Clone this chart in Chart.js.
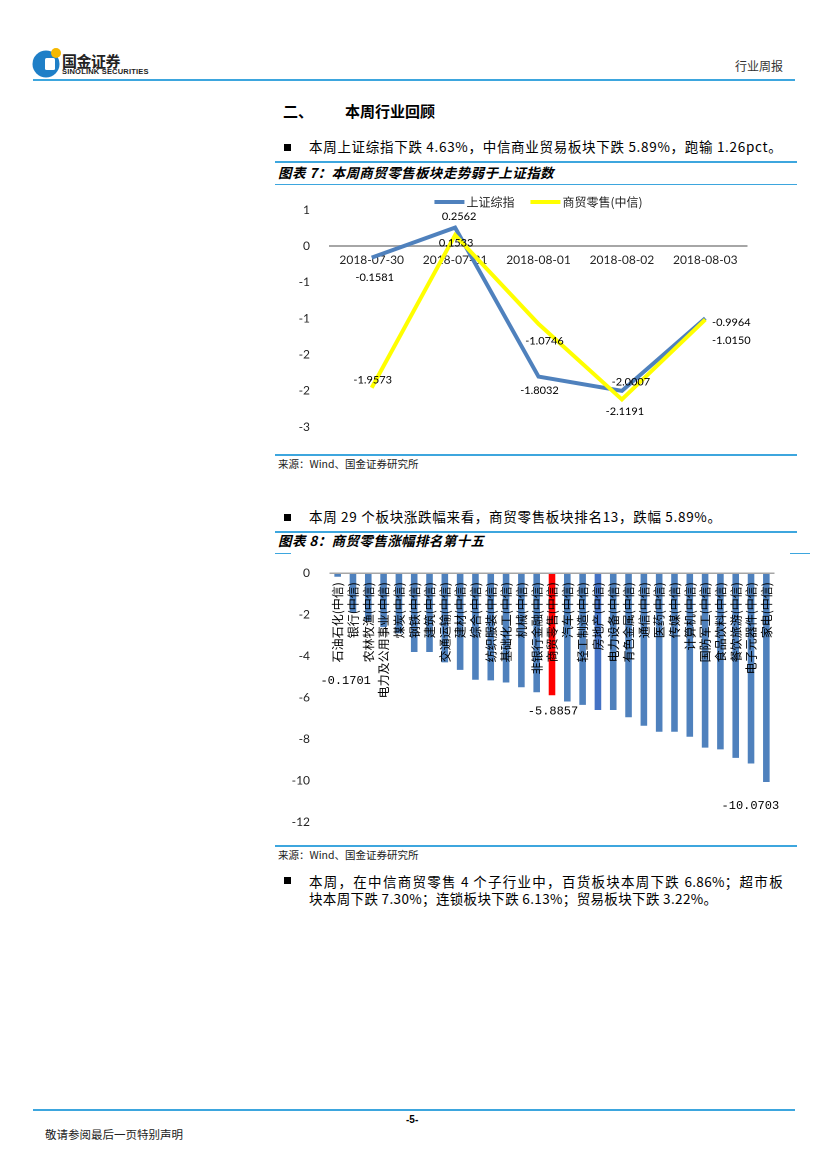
<!DOCTYPE html>
<html>
<head>
<meta charset="utf-8">
<script src="https://cdn.jsdelivr.net/npm/chart.js@4.4.0/dist/chart.umd.min.js"></script>
<style>
  body { margin: 0; background: #fff; }
  #page { position: relative; width: 827px; height: 1170px; overflow: hidden; font-family: "Noto Sans CJK SC", sans-serif; color: #000; }
  .t { position: absolute; white-space: nowrap; line-height: 1; }
  .rule { position: absolute; height: 2px; background: #3da6de; }
  .thin { height: 1px; }
  .bullet { position: absolute; width: 7px; height: 7px; background: #000; }
  .body { font-size: 13.5px; letter-spacing: 0.7px; }
  .cap { font-size: 13.5px; font-weight: bold; font-style: italic; letter-spacing: 0.4px; }
  .src { font-size: 10.5px; color: #222; }
  .box { position: absolute; }
</style>
</head>
<body>
<div id="page">
  <!-- header -->
  <svg class="box" style="left:32px;top:47px" width="32" height="32" viewBox="0 0 32 32">
    <circle cx="14" cy="17" r="13.5" fill="#1f7fc7"/>
    <rect x="13" y="11" width="10" height="12" rx="1.5" fill="#fff"/>
    <circle cx="24" cy="6" r="5" fill="#f5b800"/>
  </svg>
  <div class="t" style="left:62px;top:53px;font-size:15px;font-weight:bold;color:#222;letter-spacing:-0.5px">国金证券</div>
  <div class="t" style="left:62px;top:68px;font-size:7.5px;font-weight:bold;font-family:'Liberation Sans';color:#222;letter-spacing:0.2px">SINOLINK SECURITIES</div>
  <div class="t" style="left:735px;top:60px;font-size:12px;color:#333">行业周报</div>
  <div class="rule" style="left:33px;top:79px;width:762px"></div>

  <div class="t" style="left:283px;top:103px;font-size:15px;font-weight:bold">二、</div>
  <div class="t" style="left:345px;top:103px;font-size:15px;font-weight:bold">本周行业回顾</div>

  <div class="bullet" style="left:284px;top:144px"></div>
  <div class="t body" style="left:309px;top:140px">本周上证综指下跌 4.63%，中信商业贸易板块下跌 5.89%，跑输 1.26pct。</div>

  <div class="rule" style="left:275px;top:161px;width:522px"></div>
  <div class="t cap" style="left:278px;top:166px">图表 7：本周商贸零售板块走势弱于上证指数</div>
  <div class="rule thin" style="left:275px;top:184px;width:522px"></div>
  <canvas id="lineChart" class="box" style="left:275px;top:186px;width:522px;height:268px"></canvas>
  <div class="rule" style="left:275px;top:454px;width:522px"></div>
  <div class="t src" style="left:278px;top:459px">来源：Wind、国金证券研究所</div>

  <div class="bullet" style="left:284px;top:514px"></div>
  <div class="t body" style="left:309px;top:510px">本周 29 个板块涨跌幅来看，商贸零售板块排名13，跌幅 5.89%。</div>

  <div class="rule" style="left:275px;top:531px;width:522px"></div>
  <div class="t cap" style="left:278px;top:534px">图表 8：商贸零售涨幅排名第十五</div>
  <div class="rule thin" style="left:275px;top:553px;width:16px"></div>
  <div class="rule thin" style="left:790px;top:553px;width:20px"></div>
  <canvas id="barChart" class="box" style="left:275px;top:554px;width:522px;height:290px"></canvas>
  <div class="rule" style="left:275px;top:845px;width:522px"></div>
  <div class="t src" style="left:278px;top:850px">来源：Wind、国金证券研究所</div>

  <div class="bullet" style="left:284px;top:877px"></div>
  <div class="t body" style="left:309px;top:873px;width:474px;white-space:normal;line-height:17px;letter-spacing:0.35px">
    <div style="text-align:justify;text-align-last:justify">本周，在中信商贸零售 4 个子行业中，百货板块本周下跌 6.86%；超市板</div>
    <div>块本周下跌 7.30%；连锁板块下跌 6.13%；贸易板块下跌 3.22%。</div>
  </div>

  <!-- footer -->
  <div class="rule" style="left:33px;top:1109px;width:762px"></div>
  <div class="t" style="left:406px;top:1115px;font-size:10px;font-weight:bold;font-family:'Liberation Sans'">-5-</div>
  <div class="t" style="left:45px;top:1129px;font-size:11.5px;color:#222">敬请参阅最后一页特别声明</div>
</div>

<script>
// 图表7 数据
const dates = ['2018-07-30', '2018-07-31', '2018-08-01', '2018-08-02', '2018-08-03']
const shIndex = [-0.1581, 0.2562, -1.8032, -2.0007, -0.9964]
const retailIndex = [-1.9573, 0.1533, -1.0746, -2.1191, -1.0150]
const seriesNames = ['上证综指', '商贸零售(中信)']

// 图表8 数据
const sectors = ['石油石化(中信)', '银行(中信)', '农林牧渔(中信)', '电力及公用事业(中信)', '煤炭(中信)',
    '钢铁(中信)', '建筑(中信)', '交通运输(中信)', '建材(中信)', '综合(中信)', '纺织服装(中信)',
    '基础化工(中信)', '机械(中信)', '非银行金融(中信)', '商贸零售(中信)', '汽车(中信)', '轻工制造(中信)',
    '房地产(中信)', '电力设备(中信)', '有色金属(中信)', '通信(中信)', '医药(中信)', '传媒(中信)',
    '计算机(中信)', '国防军工(中信)', '食品饮料(中信)', '餐饮旅游(中信)', '电子元器件(中信)', '家电(中信)']
const sectorChange = [-0.1701, -1.9, -2.3, -2.6, -2.9, -3.80, -3.80, -4.3, -4.66, -5.14, -5.17,
    -5.27, -5.50, -5.74, -5.8857, -6.19, -6.35, -6.60, -6.60, -6.95, -7.36, -7.65, -7.65,
    -7.89, -8.41, -8.50, -8.91, -9.18, -10.0703]
const labelledSectors = [0, 14, 28]

const BLUE = '#4f81bd'
const YELLOW = '#ffff00'

// label offsets (px) from each point, [dx, dy]
const lineLabelOffsets = [
    [[3, 20], [4, -11], [1, 14], [9, -9], [26, 4]],
    [[1, -8], [1, 8], [6, 17], [3, 12], [26, 21]]
]
const barLabelOffsets = { 0: [8, 104], 14: [1, 16], 28: [-16, 24] }

const lineLabels = {
    id: 'lineLabels',
    afterDatasetsDraw(chart) {
        const ctx = chart.ctx
        ctx.save()
        ctx.font = '11px Lato'
        ctx.fillStyle = '#000'
        ctx.textAlign = 'center'
        ctx.textBaseline = 'middle'
        chart.data.datasets.forEach((ds, i) => {
            chart.getDatasetMeta(i).data.forEach((pt, j) => {
                const off = lineLabelOffsets[i][j]
                ctx.fillText(ds.data[j].toFixed(4), pt.x + off[0], pt.y + off[1])
            })
        })
        ctx.restore()
    }
}

// legend drawn over the top of the plot, like the original
const lineLegend = {
    id: 'lineLegend',
    afterDraw(chart) {
        const ctx = chart.ctx
        const area = chart.chartArea
        ctx.save()
        ctx.font = '12px "Noto Sans CJK SC"'
        ctx.textBaseline = 'middle'
        const items = chart.data.datasets.map(ds => ({ text: ds.label, color: ds.borderColor }))
        const w = items.reduce((s, it) => s + 32 + ctx.measureText(it.text).width, 0) + 16
        let x = (area.left + area.right) / 2 - w / 2
        const y = area.top - 8
        items.forEach(it => {
            ctx.fillStyle = it.color
            ctx.fillRect(x, y - 2, 30, 4)
            ctx.fillStyle = '#222'
            ctx.fillText(it.text, x + 32, y)
            x += 32 + ctx.measureText(it.text).width + 16
        })
        ctx.restore()
    }
}

const barLabels = {
    id: 'barLabels',
    afterDraw(chart) {
        const ctx = chart.ctx
        const meta = chart.getDatasetMeta(0)
        ctx.save()
        ctx.font = '12px "Liberation Mono"'
        ctx.fillStyle = '#000'
        ctx.textAlign = 'center'
        ctx.textBaseline = 'middle'
        labelledSectors.forEach(i => {
            const bar = meta.data[i]
            const off = barLabelOffsets[i]
            ctx.fillText(sectorChange[i].toFixed(4), bar.x + off[0], bar.y + off[1])
        })
        ctx.restore()
    }
}

function roundTick(v) {
    const r = Math.sign(v) * Math.round(Math.abs(v))
    return r === 0 ? '0' : String(r)
}

new Chart(document.getElementById('lineChart'), {
    type: 'line',
    data: {
        labels: dates,
        datasets: [{
            label: seriesNames[0],
            data: shIndex,
            borderColor: BLUE,
            backgroundColor: BLUE,
            borderWidth: 4,
            pointRadius: 0,
            order: 1
        }, {
            label: seriesNames[1],
            data: retailIndex,
            borderColor: YELLOW,
            backgroundColor: YELLOW,
            borderWidth: 4,
            pointRadius: 0,
            order: 0
        }]
    },
    options: {
        responsive: false,
        animation: false,
        devicePixelRatio: 2,
        layout: { padding: { top: 24, right: 50, bottom: 27, left: 0 } },
        plugins: { legend: { display: false }, tooltip: { enabled: false } },
        scales: {
            x: {
                position: { y: 0 },
                offset: true,
                grid: { display: false, drawTicks: false },
                border: { display: true, color: '#a6a6a6', width: 2 },
                ticks: { padding: 7, minRotation: 0, maxRotation: 0, color: '#222', font: { family: 'Lato', size: 12 } },
                afterFit: s => { s.height = 0 }
            },
            y: {
                min: -2.5,
                max: 0.5,
                grid: { display: false },
                border: { display: false },
                ticks: { stepSize: 0.5, padding: 12, color: '#222', font: { family: 'Lato', size: 12 }, callback: roundTick },
                afterFit: s => { s.width = 55 }
            }
        }
    },
    plugins: [lineLabels, lineLegend]
})

const barColors = sectors.map(s => s === '商贸零售(中信)' ? '#ff0000' : (s === '房地产(中信)' ? '#4472c4' : BLUE))

new Chart(document.getElementById('barChart'), {
    type: 'bar',
    data: {
        labels: sectors,
        datasets: [{
            data: sectorChange,
            backgroundColor: barColors,
            barPercentage: 0.43,
            categoryPercentage: 1
        }]
    },
    options: {
        responsive: false,
        animation: false,
        devicePixelRatio: 2,
        layout: { padding: { top: 13, right: 23, bottom: 22, left: 0 } },
        plugins: { legend: { display: false }, tooltip: { enabled: false } },
        scales: {
            x: {
                position: { y: 0 },
                grid: { display: false, drawTicks: false },
                border: { display: true, color: '#a6a6a6', width: 1.5, z: 1 },
                ticks: { z: 1, autoSkip: false, padding: 9, minRotation: 90, maxRotation: 90, color: '#000', font: { family: 'Noto Sans CJK SC', size: 12 } },
                afterFit: s => { s.height = 0 }
            },
            y: {
                min: -12,
                max: 0,
                grid: { display: false },
                border: { display: false },
                ticks: { stepSize: 2, padding: 12, color: '#222', font: { family: 'Lato', size: 12 } },
                afterFit: s => { s.width = 55 }
            }
        }
    },
    plugins: [barLabels]
})
</script>
</body>
</html>
